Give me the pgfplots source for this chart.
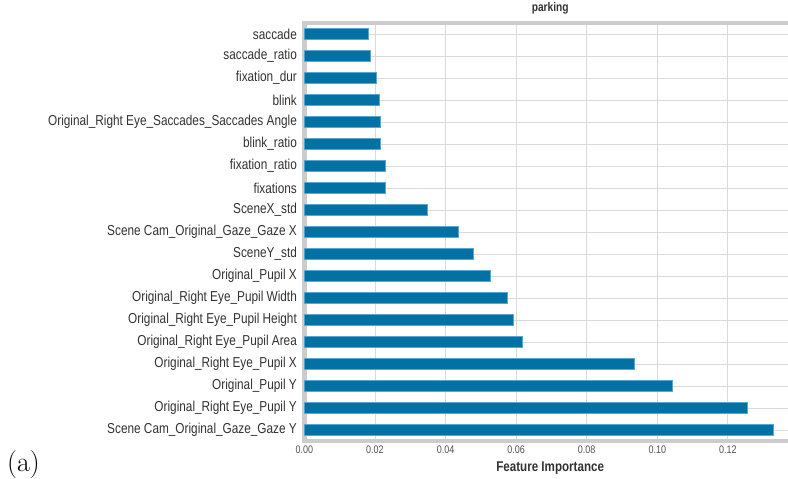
\documentclass[border=0pt]{standalone}
\usepackage{fontspec}
\setmainfont{Liberation Sans}[FakeStretch=0.82]
\newfontfamily\lmfont{Latin Modern Roman}
\usepackage{pgfplots}
\pgfplotsset{compat=1.18}
\definecolor{barblue}{RGB}{1,114,163}
\definecolor{baredge}{RGB}{90,165,210}
\definecolor{spine}{RGB}{204,204,204}
\definecolor{gridc}{RGB}{218,218,218}
\definecolor{txt}{RGB}{50,50,50}
\begin{document}
\begin{tikzpicture}
\path[use as bounding box] (0,0) rectangle (788bp,479bp);
\begin{axis}[
  at={(304.4bp,38bp)}, anchor=south west,
  scale only axis, width=491.6bp, height=418bp,
  xbar, bar width=0.48,
  xmin=0, xmax=0.1393, ymin=-0.5, ymax=18.5, y dir=reverse,
  ytick={0,...,18},
  yticklabels={saccade,saccade\_ratio,fixation\_dur,blink,Original\_Right Eye\_Saccades\_Saccades Angle,blink\_ratio,fixation\_ratio,fixations,SceneX\_std,Scene Cam\_Original\_Gaze\_Gaze X,SceneY\_std,Original\_Pupil X,Original\_Right Eye\_Pupil Width,Original\_Right Eye\_Pupil Height,Original\_Right Eye\_Pupil Area,Original\_Right Eye\_Pupil X,Original\_Pupil Y,Original\_Right Eye\_Pupil Y,Scene Cam\_Original\_Gaze\_Gaze Y},
  xtick={0,0.02,0.04,0.06,0.08,0.1,0.12},
  xticklabels={0.00,0.02,0.04,0.06,0.08,0.10,0.12},
  major tick length=0pt,
  xmajorgrids, ymajorgrids,
  grid style={gridc, line width=0.9bp},
  axis line style={spine, line width=4.2bp},
  yticklabel style={font=\fontsize{14.45}{16}\selectfont, text=txt, anchor=east, xshift=-4bp},
  xticklabel style={font=\fontsize{11}{12}\selectfont, text=txt!85, anchor=base, yshift=-12bp},
  title={parking},
  title style={font=\bfseries\fontsize{12.5}{14}\selectfont, text=txt, at={(0.5,1)}, anchor=base, yshift=6bp},
  xlabel={Feature Importance},
  xlabel style={font=\bfseries\fontsize{14.2}{16}\selectfont, text=txt, at={(0.5,0)}, anchor=base, yshift=-30bp},
]
\addplot[fill=barblue, draw=baredge, line width=0.6bp] coordinates {
(0.0181,0) (0.0186,1) (0.0205,2) (0.0212,3) (0.0214,4) (0.0216,5) (0.0229,6) (0.0229,7)
(0.0349,8) (0.0436,9) (0.0478,10) (0.0527,11) (0.0576,12) (0.0593,13) (0.0617,14)
(0.0935,15) (0.1042,16) (0.1255,17) (0.1328,18)};
\end{axis}
\node[anchor=base west, inner sep=0pt, font=\lmfont\fontsize{28}{30}\selectfont] at (7bp,7.5bp) {(a)};
\end{tikzpicture}
\end{document}
